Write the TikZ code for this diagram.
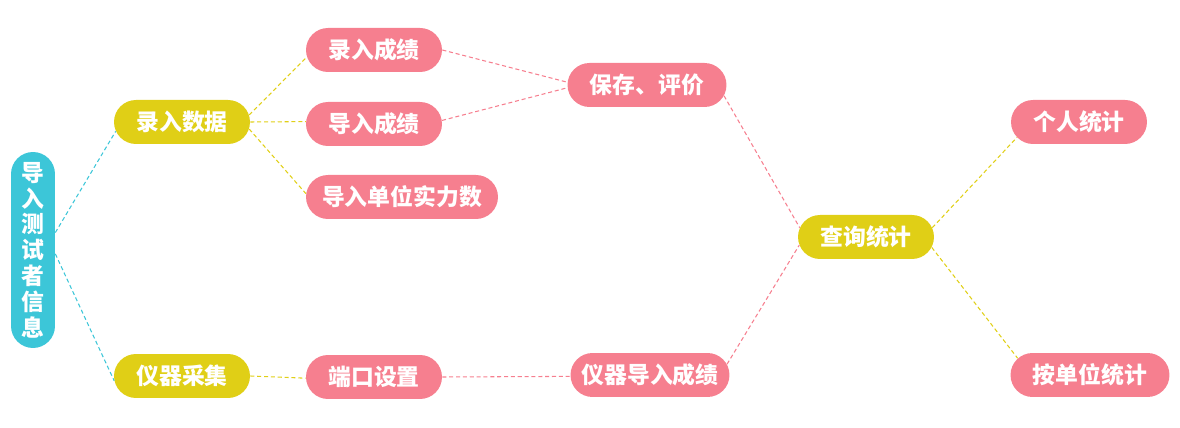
\documentclass[tikz,border=0pt]{standalone}
\usepackage{fontspec}
\newfontfamily\cjk{Noto Sans CJK SC}
\usepackage{tikz}
\usetikzlibrary{shapes.misc}

\definecolor{boxcyan}{HTML}{3CC6D8}
\definecolor{boxyellow}{HTML}{E0CF16}
\definecolor{boxpink}{HTML}{F67F8F}

\begin{document}
\begin{tikzpicture}[x=0.02cm, y=-0.02cm,
    box/.style={rounded rectangle, inner sep=0pt, minimum height=0.88cm,
        minimum width=2.72cm, text=white, font=\cjk\bfseries\fontsize{13}{15}\selectfont},
    pinkbox/.style={box, fill=boxpink},
    yellowbox/.style={box, fill=boxyellow},
    widebox/.style={minimum width=3.18cm},
    link/.style={line width=0.6pt, dash pattern=on 2.3pt off 1.6pt}]

    % Fix the page size
    \useasboundingbox (0,0) rectangle (1180,428);

    % Root node, written top to bottom
    \node[fill=boxcyan, rounded corners=0.44cm, minimum width=0.88cm, minimum height=3.92cm,
        inner sep=0pt, text=white, align=center,
        font=\cjk\bfseries\fontsize{13}{14.7}\selectfont] (root) at (33,250)
        {导\\入\\测\\试\\者\\信\\息};

    % Second level
    \node[yellowbox] (input) at (182,122) {录入数据};
    \node[yellowbox] (device) at (182,376) {仪器采集};

    % Third level
    \node[pinkbox] (enter) at (374,50) {录入成绩};
    \node[pinkbox] (import) at (374,124) {导入成绩};
    \node[pinkbox, minimum width=3.84cm] (strength) at (402,197) {导入单位实力数};
    \node[pinkbox] (port) at (374,377) {端口设置};

    % Fourth level
    \node[pinkbox, widebox] (save) at (647,85) {保存、评价};
    \node[pinkbox, widebox] (devimport) at (650,375) {仪器导入成绩};

    % Query and its branches
    \node[yellowbox] (query) at (866,237) {查询统计};
    \node[pinkbox] (person) at (1079,122) {个人统计};
    \node[pinkbox, widebox] (unit) at (1090,375) {按单位统计};

    % Connectors
    \draw[link, boxcyan] (root.38) -- (input.188);
    \draw[link, boxcyan] (root.-10) -- (device.184);

    \draw[link, boxyellow] (input.6) -- (enter.186);
    \draw[link, boxyellow] (input.east) -- (import.178);
    \draw[link, boxyellow] (input.-6) -- (strength.178);
    \draw[link, boxyellow] (device.east) -- (port.181);

    \draw[link, boxpink] (enter.east) -- (save.178);
    \draw[link, boxpink] (import.3) -- (save.182);
    \draw[link, boxpink] (port.east) -- (devimport.181);
    \draw[link, boxpink] (save.-8) -- (query.172);
    \draw[link, boxpink] (devimport.8) -- (query.187);

    \draw[link, boxyellow] (query.8) -- (person.194);
    \draw[link, boxyellow] (query.-9) -- (unit.167);

\end{tikzpicture}
\end{document}
